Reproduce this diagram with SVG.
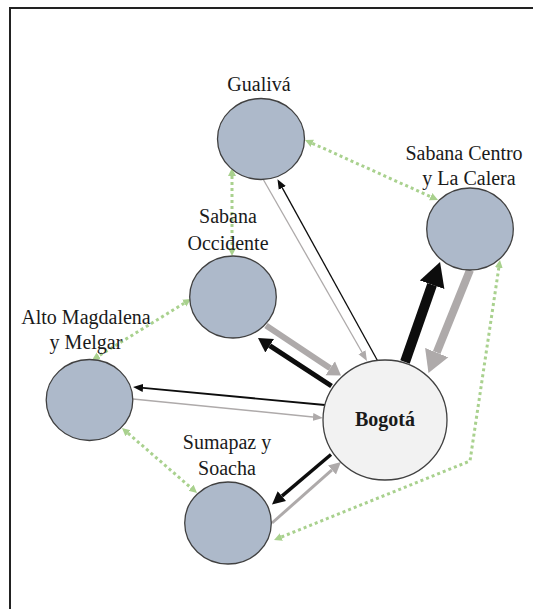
<svg xmlns="http://www.w3.org/2000/svg" width="533" height="609" viewBox="0 0 533 609">
<style>
.node{fill:#adb9ca;stroke:#404040;stroke-width:1.3}
.hub{fill:#f2f2f2;stroke:#404040;stroke-width:1.3}
.lbl{font-family:'Liberation Serif','DejaVu Serif',serif;font-size:20px;fill:#1a1a1a;text-anchor:middle}
.bold{font-weight:bold}
.blk{stroke:#0d0d0d;fill:none}
.gry{stroke:#aeaaaa;fill:none}
.grn{stroke:#a9d18e;stroke-width:3;stroke-dasharray:3 3;fill:none;marker-start:url(#mG);marker-end:url(#mG)}
</style>
<defs>
<marker id="mBs" markerUnits="userSpaceOnUse" markerWidth="12" markerHeight="10" viewBox="0 -5 12 10" refX="0" refY="0" orient="auto"><path d="M0,-4 L10,0 L0,4 Z" fill="#0d0d0d"/></marker>
<marker id="mGs" markerUnits="userSpaceOnUse" markerWidth="12" markerHeight="10" viewBox="0 -5 12 10" refX="0" refY="0" orient="auto"><path d="M0,-4 L10,0 L0,4 Z" fill="#aeaaaa"/></marker>
<marker id="mBm" markerUnits="userSpaceOnUse" markerWidth="16" markerHeight="18" viewBox="0 -9 16 18" refX="0" refY="0" orient="auto"><path d="M0,-8 L14,0 L0,8 Z" fill="#0d0d0d"/></marker>
<marker id="mGm" markerUnits="userSpaceOnUse" markerWidth="16" markerHeight="20" viewBox="0 -10 16 20" refX="0" refY="0" orient="auto"><path d="M0,-8.5 L13,0 L0,8.5 Z" fill="#aeaaaa"/></marker>
<marker id="mBsm" markerUnits="userSpaceOnUse" markerWidth="14" markerHeight="14" viewBox="0 -7 14 14" refX="0" refY="0" orient="auto"><path d="M0,-6.5 L13,0 L0,6.5 Z" fill="#0d0d0d"/></marker>
<marker id="mGsm" markerUnits="userSpaceOnUse" markerWidth="14" markerHeight="14" viewBox="0 -7 14 14" refX="0" refY="0" orient="auto"><path d="M0,-6 L12,0 L0,6 Z" fill="#aeaaaa"/></marker>
<marker id="mBl" markerUnits="userSpaceOnUse" markerWidth="26" markerHeight="28" viewBox="0 -14 26 28" refX="0" refY="0" orient="auto"><path d="M0,-13 L24,0 L0,13 Z" fill="#0d0d0d"/></marker>
<marker id="mGl" markerUnits="userSpaceOnUse" markerWidth="24" markerHeight="28" viewBox="0 -14 24 28" refX="0" refY="0" orient="auto"><path d="M0,-12.5 L22,0 L0,12.5 Z" fill="#aeaaaa"/></marker>
<marker id="mG" markerUnits="userSpaceOnUse" markerWidth="10" markerHeight="10" viewBox="0 -5 10 10" refX="0" refY="0" orient="auto-start-reverse"><path d="M0,-4 L8,0 L0,4 Z" fill="#a9d18e"/></marker>
</defs>
<rect x="10" y="8" width="530" height="612" fill="#ffffff" stroke="#222222" stroke-width="2"/>
<g id="connectors">
<line class="gry" x1="263" y1="179" x2="362" y2="352.2" stroke-width="1.3" marker-end="url(#mGs)"/>
<line class="blk" x1="378" y1="361.5" x2="282.3" y2="187.9" stroke-width="1.3" marker-end="url(#mBs)"/>
<line class="gry" x1="266" y1="325.5" x2="330.2" y2="368.3" stroke-width="6" marker-end="url(#mGm)"/>
<line class="blk" x1="331.5" y1="386" x2="269.7" y2="345.7" stroke-width="5" marker-end="url(#mBm)"/>
<line class="blk" x1="405" y1="362" x2="432.1" y2="284.7" stroke-width="10" marker-end="url(#mBl)"/>
<line class="gry" x1="470" y1="270" x2="436.7" y2="352.6" stroke-width="8" marker-end="url(#mGl)"/>
<line class="blk" x1="325" y1="405" x2="143" y2="387.9" stroke-width="1.8" marker-end="url(#mBs)"/>
<line class="gry" x1="133" y1="399" x2="313" y2="417" stroke-width="1.5" marker-end="url(#mGs)"/>
<line class="blk" x1="331" y1="454.5" x2="281.9" y2="496.1" stroke-width="3.5" marker-end="url(#mBsm)"/>
<line class="gry" x1="272" y1="523" x2="332" y2="469.9" stroke-width="3" marker-end="url(#mGsm)"/>
<line class="grn" x1="312.3" y1="143.3" x2="430.7" y2="196.7"/>
<line class="grn" x1="232" y1="176" x2="232" y2="248"/>
<line class="grn" x1="184.2" y1="303.2" x2="98.8" y2="355.8"/>
<line class="grn" x1="128" y1="433.2" x2="191" y2="487.8"/>
<polyline class="grn" points="281.4,537 470,461 498.8,267.9"/>
</g>
<g id="gualiva">
<ellipse class="node" cx="261" cy="139" rx="43.5" ry="40.5"/>
<text class="lbl" x="259" y="91">Gualivá</text>
</g>
<g id="sabana-centro">
<ellipse class="node" cx="470" cy="229" rx="43.3" ry="41"/>
<text class="lbl" x="464" y="160">Sabana Centro</text>
<text class="lbl" x="469" y="185">y La Calera</text>
</g>
<g id="sabana-occidente">
<ellipse class="node" cx="233" cy="297" rx="43.3" ry="41"/>
<text class="lbl" x="228" y="223">Sabana</text>
<text class="lbl" x="228" y="250">Occidente</text>
</g>
<g id="alto-magdalena">
<ellipse class="node" cx="89.5" cy="400" rx="43.3" ry="40.5"/>
<text class="lbl" x="86" y="324">Alto Magdalena</text>
<text class="lbl" x="86" y="349">y Melgar</text>
</g>
<g id="sumapaz">
<ellipse class="node" cx="228" cy="523" rx="43.3" ry="41"/>
<text class="lbl" x="227" y="449">Sumapaz y</text>
<text class="lbl" x="227" y="475">Soacha</text>
</g>
<g id="bogota">
<ellipse class="hub" cx="385" cy="420" rx="62" ry="60"/>
<text class="lbl bold" x="385" y="426">Bogotá</text>
</g>
</svg>
